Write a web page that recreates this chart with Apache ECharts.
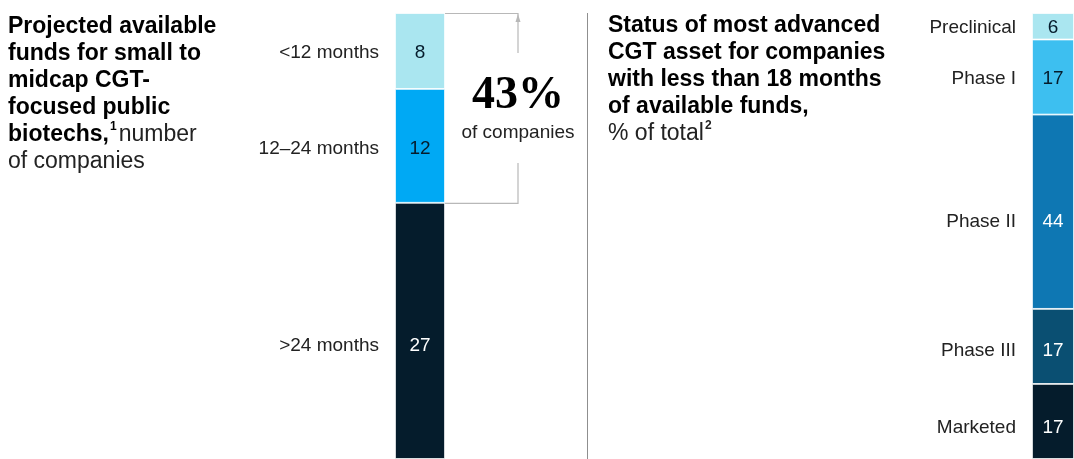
<!DOCTYPE html>
<html><head><meta charset="utf-8">
<script src="https://cdn.jsdelivr.net/npm/echarts@6/dist/echarts.min.js"></script>
<style>html,body{margin:0;padding:0;background:#fff}#c{width:1074px;height:459px}</style>
</head><body><div id="c"></div>
<script>
// ---- data ----
const fundCategories = ['<12 months', '12–24 months', '>24 months'];
const fundValues = [8, 12, 27];
const stageCategories = ['Preclinical', 'Phase I', 'Phase II', 'Phase III', 'Marketed'];
const stageValues = [6, 17, 44, 17, 17];
const highlightText = '43%';
const highlightSub = 'of companies';

// ---- styles ----
const fundColors = ['#aae6f0', '#00a9f4', '#051c2c'];
const fundLabelColors = ['#051c2c', '#051c2c', '#ffffff'];
const fundLabelDy = [2, 3, 15];
const stageColors = ['#aae6f0', '#3dbff0', '#0e77b3', '#0a4f72', '#051c2c'];
const stageLabelColors = ['#051c2c', '#051c2c', '#ffffff', '#ffffff', '#ffffff'];
const stageLabelDy = [2, 2, 10, 4, 6];
const FONT = '"Liberation Sans", Arial, sans-serif';

function sum(a) { return a.reduce((s, v) => s + v, 0); }

function buildSeries(cats, vals, colors, labelColors, dys, axisIdx, barW) {
  const out = [];
  // stack from bottom: reverse order
  for (let i = cats.length - 1; i >= 0; i--) {
    out.push({
      type: 'bar', name: cats[i], stack: 'v' + axisIdx,
      xAxisIndex: axisIdx, yAxisIndex: axisIdx,
      barWidth: barW, barGap: '-100%', silent: true,
      data: [vals[i]],
      itemStyle: { color: colors[i], borderColor: '#ffffff', borderWidth: 0.8 },
      label: { show: true, position: 'inside', offset: [0, dys[i]], formatter: '{c}', fontFamily: FONT,
        fontSize: 19, color: labelColors[i] }
    });
    out.push({
      type: 'bar', name: cats[i] + ' ', stack: 'n' + axisIdx,
      xAxisIndex: axisIdx, yAxisIndex: axisIdx,
      barWidth: barW, barGap: '-100%', silent: true,
      data: [vals[i]],
      itemStyle: { color: 'rgba(0,0,0,0)' },
      label: { show: true, position: 'left', distance: 16, offset: [0, dys[i]], formatter: cats[i],
        fontFamily: FONT, fontSize: 19, color: '#222222' }
    });
  }
  return out;
}

const chart = echarts.init(document.getElementById('c'), null, { renderer: 'canvas' });

const option = {
  animation: false,
  backgroundColor: '#ffffff',
  title: [
    {
      left: 8, top: 13, padding: 0,
      text: '{b|Projected available}\n{b|funds for small to}\n{b|midcap CGT-}\n{b|focused public}\n{b|biotechs,}{sup|1}{n|number}\n{n|of companies}',
      textStyle: {
        rich: {
          b: { fontFamily: FONT, fontWeight: 'bold', fontSize: 23, lineHeight: 27, color: '#000000' },
          n: { fontFamily: FONT, fontWeight: 'normal', fontSize: 23, lineHeight: 27, color: '#222222' },
          sup: { fontFamily: FONT, fontSize: 12, lineHeight: 27, verticalAlign: 'top', padding: [0, 2, 10, 1], color: '#000000' }
        }
      }
    },
    {
      left: 608, top: 12, padding: 0,
      text: '{b|Status of most advanced}\n{b|CGT asset for companies}\n{b|with less than 18 months}\n{b|of available funds,}\n{n|% of total}{sup|2}',
      textStyle: {
        rich: {
          b: { fontFamily: FONT, fontWeight: 'bold', fontSize: 23, lineHeight: 27, color: '#000000' },
          n: { fontFamily: FONT, fontWeight: 'normal', fontSize: 23, lineHeight: 27, color: '#222222' },
          sup: { fontFamily: FONT, fontSize: 12, lineHeight: 27, verticalAlign: 'top', padding: [0, 0, 10, 1], color: '#222222' }
        }
      }
    }
  ],
  grid: [
    { left: 395, top: 13, width: 50, bottom: 0 },
    { left: 1032, top: 13, right: 0, bottom: 0 }
  ],
  xAxis: [
    { type: 'category', gridIndex: 0, data: [''], show: false },
    { type: 'category', gridIndex: 1, data: [''], show: false }
  ],
  yAxis: [
    { type: 'value', gridIndex: 0, min: 0, max: sum(fundValues), show: false },
    { type: 'value', gridIndex: 1, min: 0, max: sum(stageValues), show: false }
  ],
  series: [].concat(
    buildSeries(fundCategories, fundValues, fundColors, fundLabelColors, fundLabelDy, 0, 50),
    buildSeries(stageCategories, stageValues, stageColors, stageLabelColors, stageLabelDy, 1, 42)
  )
};
chart.setOption(option);

// annotation bracket computed from the axis scale
const total = sum(fundValues);
const shortTerm = fundValues[0] + fundValues[1];
const pTop = chart.convertToPixel({ xAxisIndex: 0, yAxisIndex: 0 }, [0, total]);
const pMid = chart.convertToPixel({ xAxisIndex: 0, yAxisIndex: 0 }, [0, total - shortTerm]);
const pBottom = chart.convertToPixel({ xAxisIndex: 0, yAxisIndex: 0 }, [0, 0]);
const barRight = pTop[0] + 25;
const bx = barRight + 73;
const midY = (pTop[1] + pMid[1]) / 2;
const lineStyle = { stroke: '#b8b8b8', lineWidth: 1.2 };

chart.setOption({
  graphic: [
    { type: 'polyline', shape: { points: [[barRight, pTop[1] + 0.5], [bx, pTop[1] + 0.5], [bx, midY - 55]] }, style: Object.assign({ fill: null }, lineStyle), silent: true },
    { type: 'polygon', shape: { points: [[bx - 2.5, pTop[1] + 9], [bx, pTop[1] + 1], [bx + 2.5, pTop[1] + 9]] }, style: { fill: '#b8b8b8' }, silent: true },
    { type: 'polyline', shape: { points: [[bx, midY + 55], [bx, pMid[1] + 0.5], [barRight, pMid[1] + 0.5]] }, style: Object.assign({ fill: null }, lineStyle), silent: true },
    { type: 'text', x: bx, y: midY - 12, style: { text: highlightText, font: 'bold 46px "Liberation Serif", serif', fill: '#000000', align: 'center', verticalAlign: 'middle' }, silent: true },
    { type: 'text', x: bx, y: midY + 25, style: { text: highlightSub, font: '19px ' + FONT, fill: '#222222', align: 'center', verticalAlign: 'middle' }, silent: true },
    { type: 'line', shape: { x1: 587.5, y1: pTop[1], x2: 587.5, y2: pBottom[1] }, style: { stroke: '#8f8f8f', lineWidth: 1 }, silent: true }
  ]
});
</script>
</body></html>
